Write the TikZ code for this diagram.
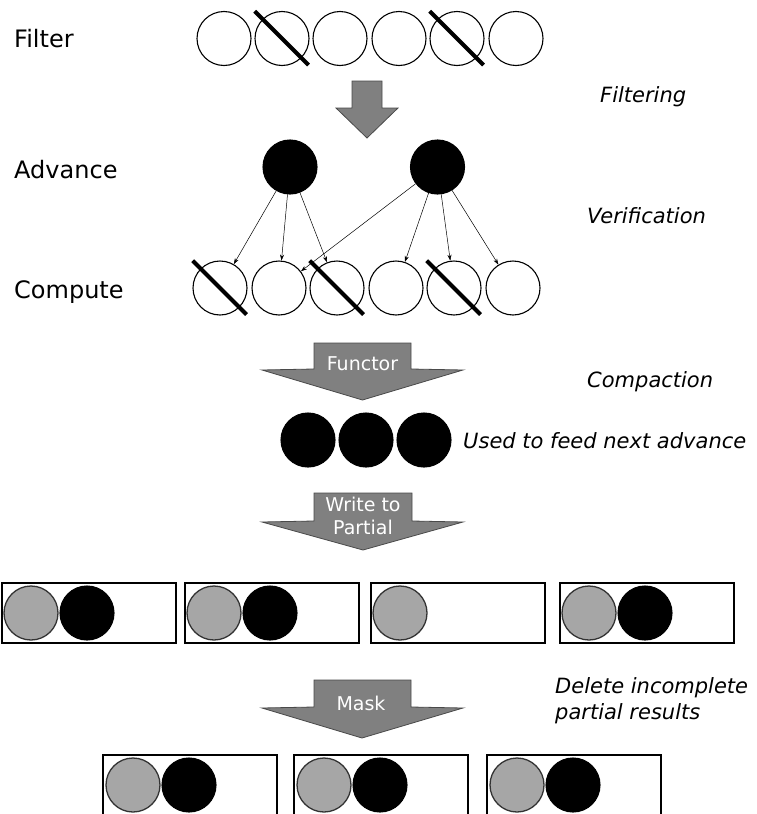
\documentclass[tikz,border=0pt]{standalone}
\usepackage{fontspec}
\setmainfont{DejaVu Sans}
\usepackage{xcolor}
\usepackage{tikz}
\usetikzlibrary{arrows.meta}

\definecolor{arrowgray}{HTML}{808080}
\definecolor{arrowedge}{HTML}{4A4A4A}
\definecolor{dotgray}{HTML}{A6A6A6}

\tikzset{
  elem/.style={circle, draw, line width=1.1pt, fill=white, minimum size=54pt, inner sep=0pt},
  full/.style={elem, fill=black},
  half/.style={elem, fill=dotgray, draw=black!80, line width=1.3pt},
  cross/.style={line width=4pt, shorten <=-11pt, shorten >=-10pt},
  partbox/.style={draw, line width=2pt, minimum width=174pt, minimum height=60pt, inner sep=0pt, anchor=west},
  bigarrow/.style={fill=arrowgray, draw=arrowedge, line width=0.8pt},
  steplabel/.style={anchor=base west, inner sep=0pt, font=\fontsize{24}{28}\selectfont},
  notelabel/.style={anchor=base west, inner sep=0pt, font=\fontsize{21}{25}\selectfont\itshape},
  arrowtext/.style={text=white, font=\fontsize{19}{23}\selectfont, align=center, inner sep=0pt}
}

\begin{document}
\begin{tikzpicture}[x=1pt, y=-1pt, >={Stealth[length=6pt, width=4pt]}]
    \useasboundingbox (0,0) rectangle (757,814);

    % Labels on the left
    \node[steplabel] (lfilter) at (14,47) {Filter};
    \node[steplabel] (ladvance) at (14,178) {Advance};
    \node[steplabel] (lcompute) at (14,298) {Compute};

    % Filter row
    \foreach \x [count=\i] in {224,282,340,399,457,516}
        \node[elem] (f\i) at (\x,38.5) {};
    \foreach \i in {2,5}
        \draw[cross] (f\i.north west) -- (f\i.south east);

    \draw[bigarrow] (352,81) -- (382,81) -- (382,108) -- (398,108) -- (367,138)
        -- (336,108) -- (352,108) -- cycle;

    % Advance and Compute
    \node[full] (a1) at (290,167) {};
    \node[full] (a2) at (437.5,167) {};
    \foreach \x [count=\i] in {220,279,337,396,454,513}
        \node[elem] (c\i) at (\x,288) {};
    \foreach \s/\t in {a1/c1, a1/c2, a1/c3, a2/c2, a2/c4, a2/c5, a2/c6}
        \draw[->, line width=0.5pt] (\s) -- (\t);
    \foreach \i in {1,3,5}
        \draw[cross] (c\i.north west) -- (c\i.south east);

    % Functor
    \draw[bigarrow] (314,343) -- (411,343) -- (411,369) -- (463,370) -- (362.5,400)
        -- (262,370) -- (314,369) -- cycle;
    \node[arrowtext] (tfunctor) at (362.5,364) {Functor};

    \foreach \x [count=\i] in {308,366,424}
        \node[full] (k\i) at (\x,440) {};

    % Write to Partial
    \draw[bigarrow] (314,493) -- (412,493) -- (412,521) -- (463,522) -- (363,550)
        -- (262,522) -- (314,521) -- cycle;
    \node[arrowtext] (twrite) at (363,516) {Write to\\Partial};

    % Partial results
    \foreach \x/\dark [count=\i] in {1/1, 184/1, 370/0, 559/1} {
        \node[partbox] (p\i) at (\x,613) {};
        \node[half] (pg\i) at (\x+30,613) {};
        \ifnum\dark=1 \node[full] (pb\i) at (\x+86,613) {}; \fi
    }

    % Mask
    \draw[bigarrow] (314,680) -- (411,680) -- (411,707) -- (463,708) -- (362,738)
        -- (262,708) -- (314,707) -- cycle;
    \node[arrowtext] (tmask) at (361,703) {Mask};

    \foreach \x [count=\i] in {102,293,486} {
        \node[partbox] (r\i) at (\x,785) {};
        \node[half] (rg\i) at (\x+31,785) {};
        \node[full] (rb\i) at (\x+87,785) {};
    }

    % Labels on the right
    \node[notelabel] (nfilter) at (600,102) {Filtering};
    \node[notelabel] (nverify) at (587,223) {Verification};
    \node[notelabel] (ncompact) at (587,387) {Compaction};
    \node[notelabel] (nfeed) at (463,448) {Used to feed next advance};
    \node[notelabel] (ndelete) at (555,693) {Delete incomplete};
    \node[notelabel] (npartial) at (555,719) {partial results};
\end{tikzpicture}
\end{document}
